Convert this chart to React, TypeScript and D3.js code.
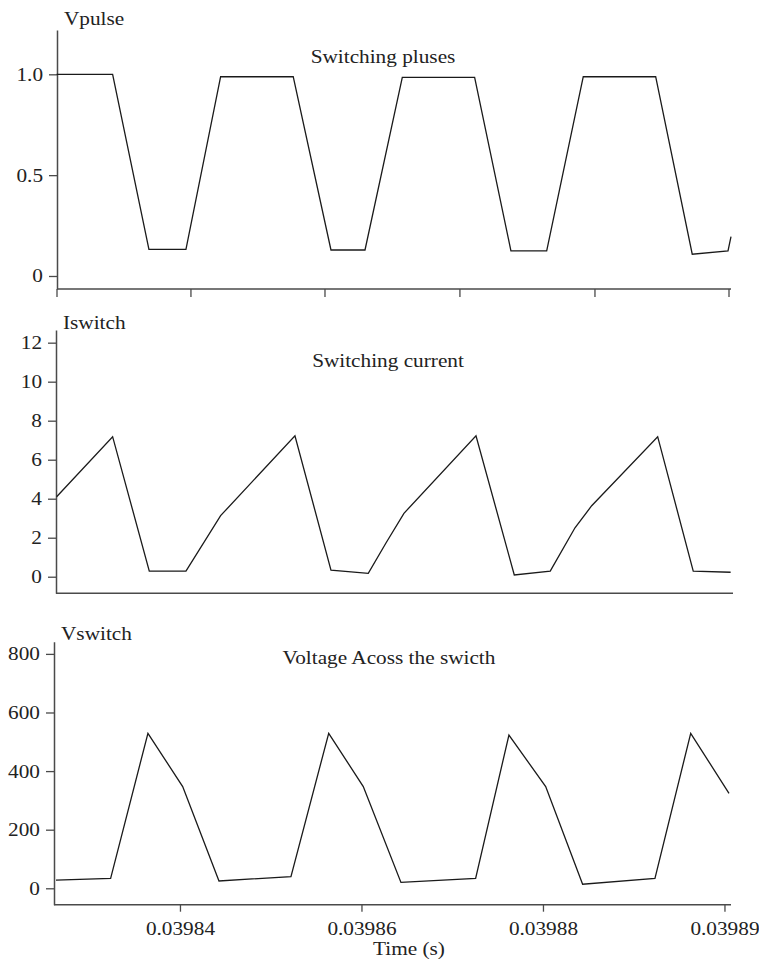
import React, { useEffect, useRef } from 'react';
import * as d3 from 'd3';

// traces (time in seconds)
const pulseTime = [0.03982641, 0.03983258, 0.03983658, 0.03984066, 0.03984448, 0.03985248, 0.03985664, 0.03986039, 0.0398645, 0.03987247, 0.03987647, 0.03988041, 0.03988444, 0.03989242, 0.03989645, 0.03990039, 0.03990072];
const pulseValue = [1.0, 1.0, 0.132, 0.132, 0.988, 0.988, 0.129, 0.129, 0.985, 0.985, 0.125, 0.125, 0.988, 0.988, 0.108, 0.125, 0.195];

const currentTime = [0.03982641, 0.03983258, 0.03983662, 0.03984066, 0.03984448, 0.03985267, 0.03985664, 0.03986075, 0.0398627, 0.03986468, 0.03987262, 0.03987684, 0.0398808, 0.03988353, 0.03988537, 0.03989264, 0.03989656, 0.03990068];
const currentValue = [4.1, 7.18, 0.29, 0.29, 3.13, 7.23, 0.34, 0.17, 1.73, 3.25, 7.23, 0.09, 0.29, 2.51, 3.64, 7.18, 0.29, 0.23];

const voltageTime = [0.03982634, 0.03983236, 0.03983647, 0.0398403, 0.0398443, 0.03985223, 0.03985639, 0.0398602, 0.03986435, 0.03987258, 0.03987625, 0.0398803, 0.03988437, 0.03989234, 0.03989628, 0.0399005];
const voltageValue = [28, 34, 529, 347, 25, 40, 529, 347, 20, 34, 523, 347, 14, 34, 529, 324];

const timeDomain = [0.03982634, 0.03990072];
const pulseTicks = [0, 0.5, 1.0];
const currentTicks = [0, 2, 4, 6, 8, 10, 12];
const voltageTicks = [0, 200, 400, 600, 800];
const pulseTimeTicks = [0.03982645, 0.03984121, 0.03985598, 0.03987085, 0.03988573, 0.0399005];
const timeTicks = [0.03984, 0.03986, 0.03988, 0.0399];
const timeTickLabels = ['0.03984', '0.03986', '0.03988', '0.03989'];

const FONT = '"Liberation Serif", "Times New Roman", serif';
const FS = 18.5;
const SX = 1.15; // the reference type is slightly wide

const panels = [
  { name: 'Vpulse', note: 'Switching pluses', t: pulseTime, v: pulseValue, domain: [-0.0645, 1.2197], ticks: pulseTicks,
    fmt: (d: number) => (d === 0 ? '0' : d3.format('.1f')(d)), top: 30, bottom: 289, left: 57, right: 731, nameY: 25, noteX: 383, noteY: 63 },
  { name: 'Iswitch', note: 'Switching current', t: currentTime, v: currentValue, domain: [-0.85, 12.65], ticks: currentTicks,
    fmt: d3.format('d'), top: 330, bottom: 593.3, left: 56, right: 733, nameY: 329, noteX: 388, noteY: 367 },
  { name: 'Vswitch', note: 'Voltage Acoss the swicth', t: voltageTime, v: voltageValue, domain: [-56, 841.6], ticks: voltageTicks,
    fmt: d3.format('d'), top: 641.7, bottom: 904.7, left: 54, right: 731, nameY: 640, noteX: 389, noteY: 664 },
];

export default function App() {
  const ref = useRef<SVGSVGElement>(null);

  useEffect(() => {
    const svg = d3.select(ref.current);
    svg.selectAll('*').remove();

    const x = d3.scaleLinear().domain(timeDomain).range([56, 731]);
    const axisColor = '#4a4a4a';

    panels.forEach((p, i) => {
      const y = d3.scaleLinear().domain(p.domain).range([p.bottom, p.top]);
      const g = svg.append('g');

      // y axis
      const yAxis = g.append('g')
        .attr('transform', `translate(${p.left},0)`)
        .call(d3.axisLeft(y).tickValues(p.ticks).tickFormat(p.fmt as any).tickSize(8).tickSizeOuter(0));
      yAxis.select('.domain').attr('stroke', axisColor).attr('stroke-width', 1.5);
      yAxis.selectAll('.tick line').attr('stroke', axisColor).attr('stroke-width', 1.3);
      yAxis.selectAll('.tick text')
        .attr('x', -14 / SX)
        .attr('transform', `scale(${SX},1)`)
        .attr('fill', '#222')
        .style('font-family', FONT)
        .style('font-size', FS + 'px');

      // x axis line
      g.append('line')
        .attr('x1', p.left).attr('x2', p.right)
        .attr('y1', p.bottom).attr('y2', p.bottom)
        .attr('stroke', axisColor).attr('stroke-width', 1.5);

      if (i === 0) {
        g.selectAll('.tt').data(pulseTimeTicks).join('line')
          .attr('x1', d => x(d)).attr('x2', d => x(d))
          .attr('y1', p.bottom).attr('y2', p.bottom + 8)
          .attr('stroke', axisColor).attr('stroke-width', 1.3);
      }
      if (i === 2) {
        const xAxis = g.append('g')
          .attr('transform', `translate(0,${p.bottom})`)
          .call(d3.axisBottom(x).tickValues(timeTicks)
            .tickFormat((_d, k) => timeTickLabels[k]).tickSize(7).tickPadding(10).tickSizeOuter(0));
        xAxis.select('.domain').remove();
        xAxis.selectAll('.tick line').attr('stroke', axisColor).attr('stroke-width', 1.3);
        xAxis.selectAll('.tick text')
          .attr('transform', `scale(${SX},1)`)
          .attr('fill', '#222')
          .style('font-family', FONT)
          .style('font-size', FS + 'px');
        // re-centre the scaled labels on their ticks
        xAxis.selectAll('.tick').each(function () {
          const tick = d3.select(this);
          const tx = +(tick.attr('transform') || '').replace(/translate\(([-\d.]+).*/, '$1');
          tick.attr('transform', `translate(${tx / 1},0)`);
          tick.select('text').attr('x', 0);
        });

        g.append('text')
          .attr('transform', `translate(409,955) scale(${SX},1)`)
          .attr('text-anchor', 'middle')
          .attr('fill', '#222')
          .style('font-family', FONT)
          .style('font-size', FS + 'px')
          .text('Time (s)');
      }

      // trace
      const line = d3.line<number>()
        .x((_d, k) => x(p.t[k]))
        .y(d => y(d));
      g.append('path')
        .datum(p.v)
        .attr('d', line)
        .attr('fill', 'none')
        .attr('stroke', '#1a1a1a')
        .attr('stroke-width', 1.3)
        .attr('stroke-linejoin', 'miter');

      // labels
      g.append('text')
        .attr('transform', `translate(${p.left + 7},${p.nameY}) scale(${SX},1)`)
        .attr('fill', '#222')
        .style('font-family', FONT)
        .style('font-size', FS + 'px')
        .text(p.name);
      g.append('text')
        .attr('transform', `translate(${p.noteX},${p.noteY}) scale(${SX},1)`)
        .attr('text-anchor', 'middle')
        .attr('fill', '#222')
        .style('font-family', FONT)
        .style('font-size', FS + 'px')
        .text(p.note);
    });
  }, []);

  return (
    <svg ref={ref} width={759} height={963}
      style={{ position: 'absolute', left: 0, top: 0, display: 'block', background: '#fff' }} />
  );
}
